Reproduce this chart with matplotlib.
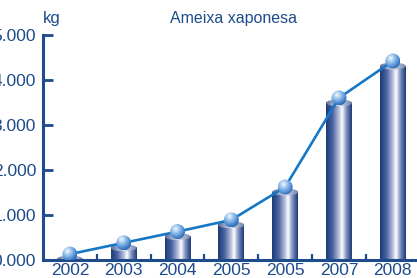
import matplotlib
matplotlib.use("Agg")
import matplotlib.pyplot as plt
import numpy as np
from matplotlib.patches import Ellipse
from matplotlib.colors import LinearSegmentedColormap

plt.rcParams['font.family'] = ['Liberation Sans', 'DejaVu Sans']

years = ["2002", "2003", "2004", "2005", "2005", "2007", "2008"]
values = [20, 270, 520, 780, 1510, 3490, 4310]
y_ticks = [0, 1000, 2000, 3000, 4000, 5000]
y_labels = ["0.000", "1.000", "2.000", "3.000", "4.000", "5.000"]

navy = "#1d4b8c"
line_blue = "#1677c4"

W, H = 417, 278
fig = plt.figure(figsize=(W / 100, H / 100), dpi=100)
ax = fig.add_axes([43 / W, 18 / H, 1 - 43 / W, (260 - 35) / H])

x = np.arange(len(years))
xmin, xmax = -0.5, 6.45
ymin, ymax = 0, 5000
px_x = (W - 43) / (xmax - xmin)      # pixels per x unit
px_y = (260 - 35) / (ymax - ymin)    # pixels per y unit

body_cmap = LinearSegmentedColormap.from_list("body", [
    (0.0, "#1a3a78"), (0.25, "#4a62a0"), (0.5, "#b8c2dc"),
    (0.62, "#ffffff"), (0.78, "#8294c0"), (1.0, "#1a3a78")])
top_cmap = LinearSegmentedColormap.from_list("top", [
    (0.0, "#5a6c9c"), (0.5, "#d8dde9"), (1.0, "#7384b0")])
sphere_cmap = LinearSegmentedColormap.from_list("sph", [
    (0.0, "#f4f8ff"), (0.35, "#9cc4ec"), (0.75, "#4a8ad2"), (1.0, "#2a64ac")])

bar_w = 26 / px_x
ell_h = 7 / px_y
sph_rx = 7.5 / px_x
sph_ry = 7.5 / px_y
sph_off = 5 / px_y

grad = np.linspace(0, 1, 256).reshape(1, -1)

for xi, v in zip(x, values):
    # cylinder body
    if v > 0:
        ax.imshow(grad, cmap=body_cmap, extent=[xi - bar_w / 2, xi + bar_w / 2, 0, v],
                  aspect="auto", zorder=1, interpolation="bilinear")
    # top ellipse
    top = Ellipse((xi, v), bar_w, ell_h, facecolor="none", edgecolor="none")
    ax.add_patch(top)
    im = ax.imshow(grad, cmap=top_cmap,
                   extent=[xi - bar_w / 2, xi + bar_w / 2, v - ell_h / 2, v + ell_h / 2],
                   aspect="auto", zorder=1.5, interpolation="bilinear")
    im.set_clip_path(top)

# connecting line through sphere centres
centres = np.array(values) + sph_off
ax.plot(x, centres, color=line_blue, lw=1.9, zorder=3, solid_capstyle="round")

# spheres
yy, xx = np.mgrid[-1:1:80j, -1:1:80j]
r = np.sqrt((xx + 0.25) ** 2 + (yy - 0.35) ** 2) / 1.45
for xi, c in zip(x, centres):
    circ = Ellipse((xi, c), 2 * sph_rx, 2 * sph_ry, facecolor="none", edgecolor="none")
    ax.add_patch(circ)
    im = ax.imshow(np.clip(r, 0, 1), cmap=sphere_cmap, origin="lower",
                   extent=[xi - sph_rx, xi + sph_rx, c - sph_ry, c + sph_ry],
                   aspect="auto", zorder=4, interpolation="bilinear")
    im.set_clip_path(circ)

ax.set_xlim(xmin, xmax)
ax.set_ylim(ymin, ymax)
ax.set_aspect("auto")

for s in ["top", "right"]:
    ax.spines[s].set_visible(False)
for s in ["left", "bottom"]:
    ax.spines[s].set_color(navy)
    ax.spines[s].set_linewidth(2.2)
    ax.spines[s].set_zorder(2.5)

ax.set_yticks(y_ticks)
ax.set_yticklabels(y_labels)
ax.tick_params(axis="y", direction="in", length=7.5, width=2, color=navy,
               labelcolor=navy, labelsize=12.5, pad=5)
ax.set_xticks(x)
ax.set_xticklabels(years)
ax.set_xticks(x[:-1] + 0.5, minor=True)
ax.tick_params(axis="x", which="major", length=0, labelcolor=navy, labelsize=12.5, pad=2)
ax.tick_params(axis="x", which="minor", direction="in", length=4, width=1.6, color=navy)

fig.text(43 / W, 1 - 18 / H, "kg", color=navy, fontsize=12, ha="left", va="center")
fig.text(233 / W, 1 - 18 / H, "Ameixa xaponesa", color=navy, fontsize=11.5,
         ha="center", va="center")

fig.savefig("out.png", dpi=100)
